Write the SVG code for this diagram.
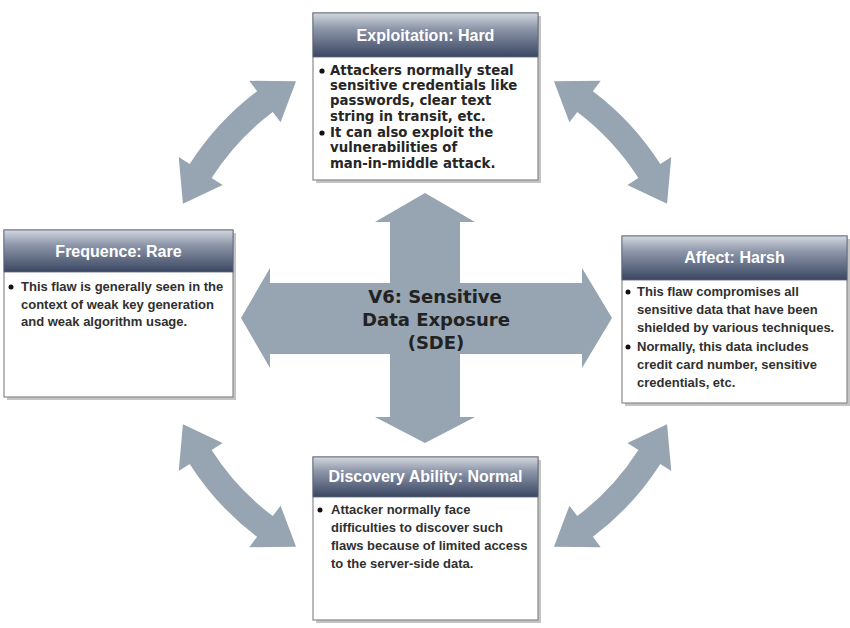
<svg xmlns="http://www.w3.org/2000/svg" width="850" height="628" viewBox="0 0 850 628">
  <style>
    .shadow { fill: #c4c4c4; }
    .body { fill: #ffffff; stroke: #8a8a8a; stroke-width: 1.2; }
    .hdr { fill: url(#hdrGrad); stroke: #5a6478; stroke-width: 0.8; }
    .title { font-family: "Liberation Sans", Arial, sans-serif; font-weight: bold; font-size: 16px; fill: #ffffff; text-anchor: middle; }
    .txt { font-family: "Liberation Sans", Arial, sans-serif; font-weight: bold; font-size: 13px; fill: #303030; }
    .txtL { font-family: "DejaVu Sans", Verdana, sans-serif; font-weight: bold; font-size: 13.3px; fill: #262626; }
    .bul { fill: #111111; }
    .arw { fill: #97a4b1; }
    .center { font-family: "DejaVu Sans", Verdana, sans-serif; font-weight: bold; font-size: 18px; fill: #222222; text-anchor: middle; }
  </style>
  <defs>
    <linearGradient id="hdrGrad" x1="0" y1="0" x2="0" y2="1">
      <stop offset="0" stop-color="#d3d7df"/>
      <stop offset="0.35" stop-color="#8e97aa"/>
      <stop offset="1" stop-color="#3a4662"/>
    </linearGradient>
    <path id="arc" d="M 128.96 -232.64 L 175.73 -233.19 L 167.90 -222.81 A 279 279 0 0 1 235.31 -149.91 L 246.27 -156.89 L 242.06 -110.31 L 202.42 -128.95 L 213.38 -135.94 A 253 253 0 0 0 152.26 -202.05 L 144.43 -191.66 Z"/>
  </defs>
  <rect width="850" height="628" fill="#ffffff"/>

  <g id="connectors">
    <use href="#arc" class="arw" transform="translate(425,314)"/>
    <use href="#arc" class="arw" transform="translate(425,314) scale(-1,1)"/>
    <use href="#arc" class="arw" transform="translate(425,314) scale(1,-1)"/>
    <use href="#arc" class="arw" transform="translate(425,314) scale(-1,-1)"/>
  </g>

  <g id="center">
    <polygon class="arw" points="425,193 475,222 460,222 460,283 582,283 582,268 612,318 582,368 582,354 460,354 460,417 475,417 425,443 375,417 390,417 390,354 270,354 270,368 241,318 270,268 270,283 390,283 390,222 375,222"/>
    <text class="center" x="435" y="303">V6: Sensitive</text>
    <text class="center" x="436" y="326">Data Exposure</text>
    <text class="center" x="436" y="349">(SDE)</text>
  </g>

  <g id="exploitation">
    <rect class="shadow" x="316" y="16" width="225" height="167"/>
    <rect class="body" x="313" y="13" width="225" height="167"/>
    <rect class="hdr" x="313" y="13" width="225" height="44"/>
    <text class="title" x="425.5" y="41">Exploitation: Hard</text>
    <circle class="bul" cx="322" cy="71" r="2.6"/>
    <text class="txtL" x="330" y="75">Attackers normally steal</text>
    <text class="txtL" x="330" y="90">sensitive credentials like</text>
    <text class="txtL" x="330" y="105">passwords, clear text</text>
    <text class="txtL" x="330" y="121">string in transit, etc.</text>
    <circle class="bul" cx="322" cy="133" r="2.6"/>
    <text class="txtL" x="330" y="137">It can also exploit the</text>
    <text class="txtL" x="330" y="152">vulnerabilities of</text>
    <text class="txtL" x="330" y="168">man-in-middle attack.</text>
  </g>

  <g id="frequence">
    <rect class="shadow" x="7" y="233" width="229" height="167"/>
    <rect class="body" x="4" y="230" width="229" height="167"/>
    <rect class="hdr" x="4" y="230" width="229" height="42"/>
    <text class="title" x="118.5" y="257">Frequence: Rare</text>
    <circle class="bul" cx="11" cy="287" r="2.5"/>
    <text class="txt" x="21" y="291">This flaw is generally seen in the</text>
    <text class="txt" x="21" y="309">context of weak key generation</text>
    <text class="txt" x="21" y="326">and weak algorithm usage.</text>
  </g>

  <g id="affect">
    <rect class="shadow" x="625" y="239" width="225" height="167"/>
    <rect class="body" x="622" y="236" width="225" height="167"/>
    <rect class="hdr" x="622" y="236" width="225" height="44"/>
    <text class="title" x="734.5" y="263">Affect: Harsh</text>
    <circle class="bul" cx="628" cy="292" r="2.5"/>
    <text class="txt" x="637" y="296">This flaw compromises all</text>
    <text class="txt" x="637" y="314">sensitive data that have been</text>
    <text class="txt" x="637" y="332">shielded by various techniques.</text>
    <circle class="bul" cx="628" cy="347" r="2.5"/>
    <text class="txt" x="637" y="351">Normally, this data includes</text>
    <text class="txt" x="637" y="369">credit card number, sensitive</text>
    <text class="txt" x="637" y="387">credentials, etc.</text>
  </g>

  <g id="discovery">
    <rect class="shadow" x="316" y="460" width="225" height="163"/>
    <rect class="body" x="313" y="457" width="225" height="163"/>
    <rect class="hdr" x="313" y="457" width="225" height="40"/>
    <text class="title" x="425.5" y="482">Discovery Ability: Normal</text>
    <circle class="bul" cx="320" cy="510" r="2.5"/>
    <text class="txt" x="331" y="514">Attacker normally face</text>
    <text class="txt" x="331" y="532">difficulties to discover such</text>
    <text class="txt" x="331" y="550">flaws because of limited access</text>
    <text class="txt" x="331" y="568">to the server-side data.</text>
  </g>
</svg>
